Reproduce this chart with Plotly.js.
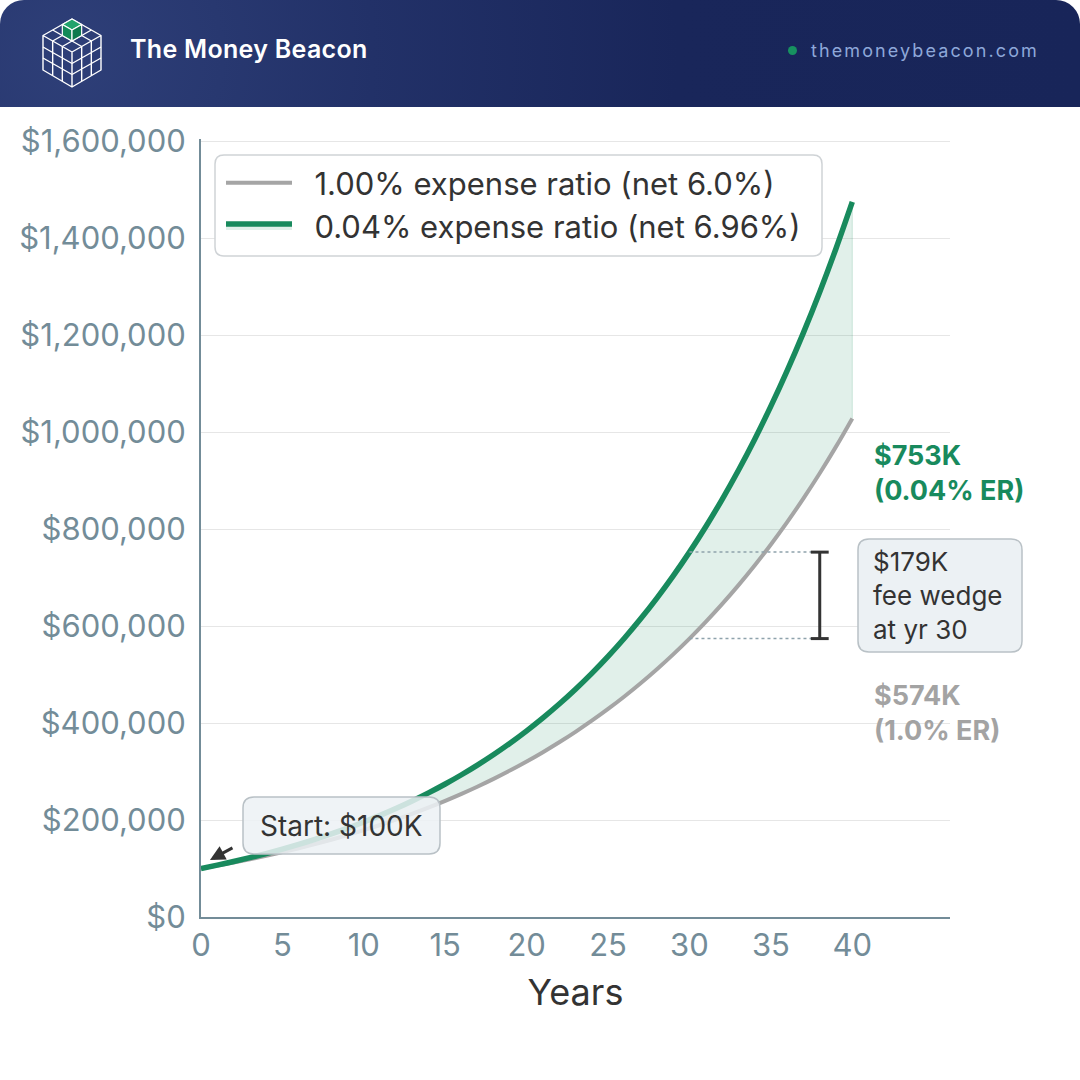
<!DOCTYPE html>
<html>
<head>
<meta charset="utf-8">
<script src="https://cdn.plot.ly/plotly-3.0.1.min.js"></script>
<style>
  html, body { margin: 0; padding: 0; background: #fff; }
  body { width: 1080px; height: 1080px; position: relative; overflow: hidden; font-family: Inter, 'Noto Sans', sans-serif; }
  #header {
    position: absolute; left: 0; top: 0; width: 1080px; height: 107px;
    border-radius: 24px 24px 0 0;
    background: radial-gradient(circle at 70px 55px, #2e3f78 0%, #223168 30%, #19265a 60%, #182559 100%);
  }
  #brand { position: absolute; left: 130px; top: 34px; color: #fff; font-size: 25px; font-weight: 600; letter-spacing: 0.3px; }
  #site { position: absolute; left: 788px; top: 40px; color: #8ea8d9; font-size: 18px; letter-spacing: 2.1px; }
  #site span { display: inline-block; width: 9px; height: 9px; border-radius: 50%; background: #179260; margin-right: 14px; vertical-align: 2px; }
  #logo { position: absolute; left: 42px; top: 17px; }
  #chart { position: absolute; left: 0; top: 0; width: 1080px; height: 1080px; }
</style>
</head>
<body>
<div id="chart"></div>
<div id="header">
  <svg id="logo" width="60" height="72" viewBox="-1 0 60 72">
    <g fill="none" stroke="#ffffff" stroke-width="1.4" stroke-linejoin="round">
      <path d="M29,2 L58,18.5 L58,53 L29,70 L0,53 L0,18.5 Z M0,18.5 L29,35 L58,18.5 M29,35 L29,70"/>
      <path d="M38.67,7.5 L9.67,24 M48.33,13 L19.33,29.5 M19.33,7.5 L48.33,24 M9.67,13 L38.67,29.5"/>
      <path d="M9.67,24 L9.67,58.5 M19.33,29.5 L19.33,64 M0,30 L29,46.5 M0,41 L29,57.5"/>
      <path d="M38.67,29.5 L38.67,64 M48.33,24 L48.33,58.5 M29,46.5 L58,30 M29,57.5 L58,41"/>
    </g>
    <g stroke="#ffffff" stroke-width="1.2" stroke-linejoin="round">
      <path d="M29,2 L38.67,7.5 L29,13 L19.33,7.5 Z" fill="#22a36c"/>
      <path d="M19.33,7.5 L29,13 L29,24 L19.33,18.5 Z" fill="#138a58"/>
      <path d="M29,13 L38.67,7.5 L38.67,18.5 L29,24 Z" fill="#0f7a4d"/>
    </g>
  </svg>
  <div id="brand">The Money Beacon</div>
  <div id="site"><span></span>themoneybeacon.com</div>
</div>
<script>
  // portfolio value by year
  const years = [0, 1, 2, 3, 4, 5, 6, 7, 8, 9, 10, 11, 12, 13, 14, 15, 16, 17, 18, 19, 20,
    21, 22, 23, 24, 25, 26, 27, 28, 29, 30, 31, 32, 33, 34, 35, 36, 37, 38, 39, 40]
  const highFee = [100000, 106000, 112360, 119102, 126248, 133823, 141852, 150363, 159385, 168948, 179085,
    189830, 201220, 213293, 226090, 239656, 254035, 269277, 285434, 302560, 320714,
    339956, 360354, 381975, 404893, 429187, 454938, 482235, 511169, 541839, 574349,
    608810, 645339, 684059, 725103, 768609, 814725, 863609, 915425, 970351, 1028572]
  const lowFee = [100000, 106960, 114404, 122367, 130884, 139993, 149737, 160159, 171306, 183229, 195982,
    209622, 224212, 239817, 256508, 274361, 293457, 313882, 335728, 359095, 384088,
    410820, 439413, 469996, 502708, 537697, 575121, 615149, 657963, 703757, 752739,
    805130, 861167, 921104, 985213, 1053784, 1127127, 1205575, 1289483, 1379231, 1475226]
  const seriesNames = ['1.00% expense ratio (net 6.0%)', '0.04% expense ratio (net 6.96%)']
  const xTicks = [0, 5, 10, 15, 20, 25, 30, 35, 40]
  const yTicks = [0, 200000, 400000, 600000, 800000, 1000000, 1200000, 1400000, 1600000]
  const yTickText = ['$0', '$200,000', '$400,000', '$600,000', '$800,000', '$1,000,000', '$1,200,000', '$1,400,000', '$1,600,000']

  const GREEN = '#188a5d'
  const GRAY = '#a5a5a5'
  const AXIS = '#738c98'
  const FONT = 'Inter, "Noto Sans", sans-serif'
  const PAD = '\u00a0\u00a0'

  const mark = 30 // year for the fee wedge callout
  const kNum = v => Math.round(v / 1000)
  const k = v => '$' + kNum(v) + 'K'
  const wedge = kNum(lowFee[mark]) - kNum(highFee[mark])

  // plot box in page pixels, used to place the callout boxes
  const L = 201, R = 950, T = 139, B = 917
  const px = x => (x - L) / (R - L)
  const py = y => (B - y) / (B - T)
  const roundBox = (x0, x1, y0, y1, r, fill, stroke) => {
    const a = px(x0), b = px(x1), c = py(y0), d = py(y1)
    const rx = r / (R - L), ry = r / (B - T)
    const path = `M${a + rx},${c} L${b - rx},${c} Q${b},${c} ${b},${c - ry} L${b},${d + ry} Q${b},${d} ${b - rx},${d} ` +
      `L${a + rx},${d} Q${a},${d} ${a},${d + ry} L${a},${c - ry} Q${a},${c} ${a + rx},${c} Z`
    return { type: 'path', xref: 'paper', yref: 'paper', path, fillcolor: fill, line: { color: stroke, width: 1.5 }, layer: 'above' }
  }

  const data = [
    {
      x: years, y: highFee, name: PAD + seriesNames[0], mode: 'lines',
      line: { color: GRAY, width: 4, shape: 'spline' },
      hoverinfo: 'skip',
    },
    {
      x: years, y: lowFee, name: PAD + seriesNames[1], mode: 'lines',
      line: { color: GREEN, width: 5.5, shape: 'spline' },
      fill: 'tonexty', fillcolor: 'rgba(24,138,93,0.13)',
      hoverinfo: 'skip',
    },
  ]

  const dotted = { color: '#8ea2ac', width: 1.5, dash: 'dot' }
  const bar = { color: '#333333', width: 3 }
  const shapes = [
    { type: 'line', xref: 'x', yref: 'y', x0: 40, x1: 40, y0: highFee[40], y1: lowFee[40], line: { color: 'rgba(24,138,93,0.18)', width: 1 } },
    { type: 'line', xref: 'x', yref: 'y', x0: mark, x1: 37.5, y0: lowFee[mark], y1: lowFee[mark], line: dotted },
    { type: 'line', xref: 'x', yref: 'y', x0: mark, x1: 37.5, y0: highFee[mark], y1: highFee[mark], line: dotted },
    { type: 'line', xref: 'x', yref: 'y', x0: 38, x1: 38, y0: highFee[mark], y1: lowFee[mark], line: bar },
    { type: 'line', xref: 'x', yref: 'y', x0: 37.45, x1: 38.55, y0: lowFee[mark], y1: lowFee[mark], line: bar },
    { type: 'line', xref: 'x', yref: 'y', x0: 37.45, x1: 38.55, y0: highFee[mark], y1: highFee[mark], line: bar },
    roundBox(215, 822, 155, 256, 9, '#ffffff', '#cfd3d6'),
    roundBox(858, 1022, 539, 652, 11, '#ecf1f4', '#b9c1c6'),
    roundBox(243, 440, 797, 854, 11, 'rgba(236,241,244,0.85)', '#b9c1c6'),
  ]

  const annotations = [
    {
      x: 41.2, y: 916000, xref: 'x', yref: 'y', xanchor: 'left', yanchor: 'middle', align: 'left',
      showarrow: false, text: '<b>' + k(lowFee[mark]) + '<br>(0.04% ER)</b>',
      font: { family: FONT, size: 27, color: GREEN },
    },
    {
      x: 41.2, y: 421000, xref: 'x', yref: 'y', xanchor: 'left', yanchor: 'middle', align: 'left',
      showarrow: false, text: '<b>' + k(highFee[mark]) + '<br>(1.0% ER)</b>',
      font: { family: FONT, size: 27, color: '#a3a3a3' },
    },
    {
      x: px(871), y: py(595.5), xref: 'paper', yref: 'paper', xanchor: 'left', yanchor: 'middle', align: 'left',
      showarrow: false, text: '$' + wedge + 'K<br>fee wedge<br>at yr 30',
      font: { family: FONT, size: 26, color: '#333333' },
    },
    {
      x: px(341.5), y: py(825.5), xref: 'paper', yref: 'paper', xanchor: 'center', yanchor: 'middle',
      showarrow: false, text: 'Start: ' + k(lowFee[0]),
      font: { family: FONT, size: 28, color: '#333333' },
    },
    {
      x: 0.55, y: 117600, xref: 'x', yref: 'y', ax: 24, ay: -13, axref: 'pixel', ayref: 'pixel',
      showarrow: true, arrowhead: 2, arrowsize: 1, arrowwidth: 3, arrowcolor: '#333333', text: '',
    },
  ]

  const layout = {
    width: 1080, height: 1080,
    margin: { l: L, r: 1080 - R, t: T, b: 1080 - B },
    paper_bgcolor: '#ffffff', plot_bgcolor: '#ffffff',
    font: { family: FONT, color: '#333333' },
    showlegend: true,
    legend: {
      x: px(221), y: py(156), xanchor: 'left', yanchor: 'top',
      bgcolor: 'rgba(0,0,0,0)', borderwidth: 0,
      font: { family: FONT, size: 31, color: '#333333' },
      itemwidth: 66, traceorder: 'normal', tracegroupgap: 0,
    },
    xaxis: {
      range: [0, 46], tickvals: xTicks, ticks: '', showgrid: false, zeroline: false,
      showline: true, linecolor: AXIS, linewidth: 2,
      tickfont: { family: FONT, size: 31, color: AXIS }, ticklabelstandoff: 0,
      title: { text: 'Years', font: { family: FONT, size: 36, color: '#333333' }, standoff: 18 },
      fixedrange: true,
    },
    yaxis: {
      range: [0, 1605000], tickvals: yTicks, ticktext: yTickText, ticks: '',
      showgrid: true, gridcolor: '#e6e6e6', gridwidth: 1, zeroline: false,
      showline: true, linecolor: AXIS, linewidth: 2,
      tickfont: { family: FONT, size: 31, color: AXIS }, ticklabelstandoff: 7,
      fixedrange: true,
    },
    shapes, annotations,
  }

  Plotly.newPlot('chart', data, layout, { displayModeBar: false, staticPlot: true })
</script>
</body>
</html>
